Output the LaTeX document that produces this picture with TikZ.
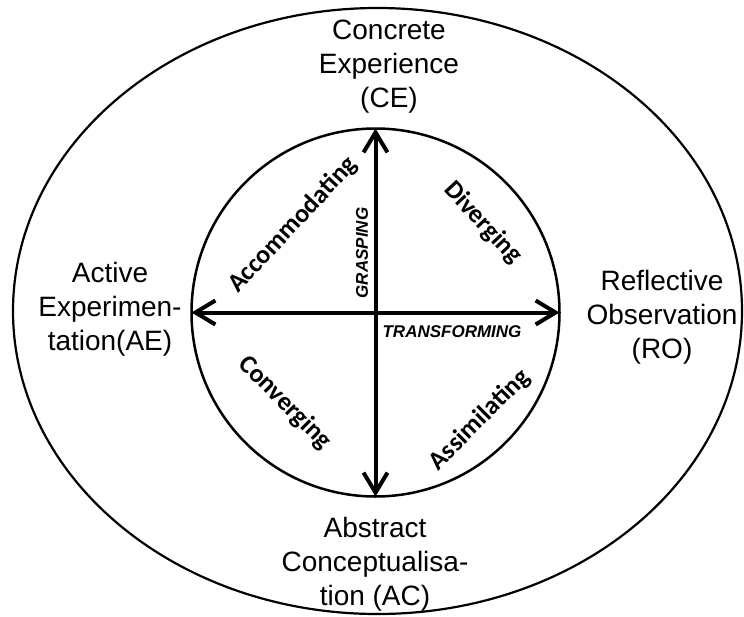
\documentclass[tikz,border=0pt]{standalone}
\usepackage{fontspec}
\setmainfont{Liberation Sans}
\newfontfamily\labfont{Carlito}
\usetikzlibrary{arrows.meta,shapes.geometric}
\begin{document}
\begin{tikzpicture}[x=1pt,y=-1pt,
  outerlab/.style={align=center,font=\fontsize{28}{34}\selectfont,inner sep=0pt},
  stylelab/.style={font=\labfont\bfseries\fontsize{26}{30}\selectfont,inner sep=0pt},
  axislab/.style={font=\bfseries\itshape\fontsize{17}{20}\selectfont,inner sep=0pt},
  barb/.style={Straight Barb[length=20pt,width=24pt]},
  axisarrow/.style={line width=4pt,{Straight Barb[length=20pt,width=24pt]}-{Straight Barb[length=20pt,width=24pt]}}
]
\useasboundingbox[fill=white] (0,0) rectangle (744,616);
\node[ellipse,draw,line width=2.2pt,minimum width=729pt,minimum height=606pt,inner sep=0pt,outer sep=0pt] (outer) at (377.5,311) {};
\node[circle,draw,line width=2.5pt,minimum size=368pt,inner sep=0pt,outer sep=0pt] (inner) at (375.5,312.5) {};
\draw[axisarrow] (inner.north) -- (inner.south);
\draw[axisarrow] (inner.west) -- (inner.east);

\node[outerlab] (ce) at (389,67) {Concrete\\Experience\\(CE)};
\node[outerlab] (ae) at (110,309) {Active\\Experimen-\\tation(AE)};
\node[outerlab] (ro) at (662,317) {Reflective\\Observation\\(RO)};
\node[outerlab] (ac) at (375,564) {Abstract\\Conceptualisa-\\tion (AC)};

\node[stylelab,rotate=47] (acc) at (293,225) {Accommodating};
\node[stylelab,rotate=-47] (div) at (483,223) {Diverging};
\node[stylelab,rotate=-45] (con) at (285,403) {Converging};
\node[stylelab,rotate=45] (ass) at (480,420) {Assimilating};

\node[axislab,rotate=90] (grasp) at (362,253) {GRASPING};
\node[axislab] (trans) at (452,332) {TRANSFORMING};
\end{tikzpicture}
\end{document}
